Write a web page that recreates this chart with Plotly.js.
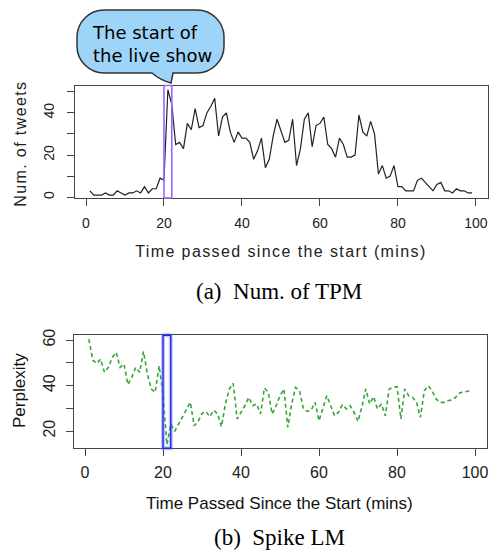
<!DOCTYPE html>
<html>
<head>
<meta charset="utf-8">
<script src="https://cdn.plot.ly/plotly-3.0.1.min.js"></script>
<style>
html,body{margin:0;padding:0;background:#fff;}
#chart{width:489px;height:551px;}
.spaced text{letter-spacing:1.4px;}
</style>
</head>
<body>
<div id="chart"></div>
<script>
// ---- data ----
const minutes = [1,2,3,4,5,6,7,8,9,10,11,12,13,14,15,16,17,18,19,20,
  21,22,23,24,25,26,27,28,29,30,31,32,33,34,35,36,37,38,39,40,
  41,42,43,44,45,46,47,48,49,50,51,52,53,54,55,56,57,58,59,60,
  61,62,63,64,65,66,67,68,69,70,71,72,73,74,75,76,77,78,79,80,
  81,82,83,84,85,86,87,88,89,90,91,92,93,94,95,96,97,98,99];
const tweets = [3,1,1,1,2,1,1,3,2,1, 2,2,3,2,5,2,4,4,9,8,
  51,44,25,26,23,35,32,42,33,34, 40,43,47,29,38,40,31,26,31,28,
  28,26,18,22,28,14,18,29,37,32, 26,27,37,15,23,37,40,24,34,35,
  38,25,23,19,28,25,19,19,20,39, 31,29,36,30,11,15,9,10,15,5,
  5,3,3,3,8,9,7,5,3,6, 7,3,3,2,4,3,3,2,2];
const perplexity = [60.4,51.2,49.7,51.6,45.8,48,52.4,54.6,48,49.5,
  40.4,43.6,48,45.8,55,45,38.5,37,48.7,36,
  14,23,19.9,23,26.7,29.2,32.6,22.3,24.2,27.8,
  28.6,26.3,29.2,27.5,21.9,31.9,38.5,41,25.3,28.2,
  31.1,34.8,31.1,31.9,27.5,38.9,37,27.5,31.1,35.5,
  38.5,21.6,31.9,39.2,37.7,29.7,28.6,29.2,32.6,24.5,
  30.4,35.5,31.1,26.7,28.2,31.6,29.7,31.1,28.2,24.2,
  30.7,38.5,31.9,35.1,29.7,31.9,26.7,38.5,39.2,39.5,
  25.3,38.5,35.5,34.8,32.6,26,37.7,39.9,37.7,34.1,
  32.6,32.6,33.3,33.6,34.8,36.6,37.4,37.4,38];
const xTicks = [0,20,40,60,80,100];
const yTicksTop = [0,10,20,30,40,50];
const yTextTop = ['0','','20','','40',''];
const yTicksBottom = [20,30,40,50,60];
const yTextBottom = ['20','','40','','60'];
const liveStart = [20,22];
const bubbleLines = ['The start of','the live show'];
const captionA = '(a)\u2002Num. of TPM';
const captionB = '(b)\u2002Spike LM';

// ---- layout helpers ----
const W = 489, H = 551;
const px = x => (x / W).toFixed(5);
const py = y => (1 - y / H).toFixed(5);
function P(x, y){ return px(x) + ',' + py(y); }

function bubblePath(){
  const L=77, R=224, T=10, B=73, r=27, k=0.45;
  return 'M' + P(L+r,T) +
    ' L' + P(R-r,T) +
    ' C' + P(R-r*k,T) + ' ' + P(R,T+r*k) + ' ' + P(R,T+r) +
    ' L' + P(R,B-r) +
    ' C' + P(R,B-r*k) + ' ' + P(R-r*k,B) + ' ' + P(R-r,B) +
    ' L' + P(173,B) +
    ' L' + P(171,83) +
    ' Q' + P(160,80) + ' ' + P(152,B) +
    ' L' + P(L+r,B) +
    ' C' + P(L+r*k,B) + ' ' + P(L,B-r*k) + ' ' + P(L,B-r) +
    ' L' + P(L,T+r) +
    ' C' + P(L,T+r*k) + ' ' + P(L+r*k,T) + ' ' + P(L+r,T) + ' Z';
}

const sans = 'Liberation Sans, Arial, sans-serif';
const serif = 'Liberation Serif, Times New Roman, serif';

const traces = [
  {x: minutes, y: tweets, xaxis:'x', yaxis:'y', type:'scatter', mode:'lines',
   line:{color:'#222', width:1.2}, hoverinfo:'skip'},
  {x: minutes, y: perplexity, xaxis:'x2', yaxis:'y2', type:'scatter', mode:'lines',
   line:{color:'#35a535', width:1.6, dash:'4px,3px'}, hoverinfo:'skip'}
];

const axCommon = {showgrid:false, zeroline:false, showline:true, mirror:true,
  linecolor:'#444', linewidth:1, ticks:'outside', ticklen:7, tickcolor:'#444',
  tickmode:'array', fixedrange:true};

const layout = {
  width: W, height: H,
  margin:{l:0,r:0,t:0,b:0},
  paper_bgcolor:'#fff', plot_bgcolor:'#fff',
  showlegend:false,
  xaxis: Object.assign({}, axCommon, {domain:[75/W, 488/W], range:[-2.82,103.1],
    tickvals:xTicks, anchor:'y', ticklabelstandoff:5,
    tickfont:{family:sans, size:14, color:'#222'}}),
  yaxis: Object.assign({}, axCommon, {domain:[1-198/H, 1-85.5/H], range:[-0.4,53],
    tickvals:yTicksTop, ticktext:yTextTop, tickangle:-90, anchor:'x', ticklabelstandoff:7,
    tickfont:{family:sans, size:14, color:'#222'}}),
  xaxis2: Object.assign({}, axCommon, {domain:[74/W, 486.7/W], range:[-2.82,103.0],
    tickvals:xTicks, anchor:'y2', ticklabelstandoff:2,
    tickfont:{family:sans, size:16, color:'#222'}}),
  yaxis2: Object.assign({}, axCommon, {domain:[1-448.3/H, 1-335.3/H], range:[12.4,62.1],
    tickvals:yTicksBottom, ticktext:yTextBottom, tickangle:-90, anchor:'x2', ticklabelstandoff:5,
    tickfont:{family:sans, size:16, color:'#222'}}),
  shapes: [
    {type:'rect', xref:'x', yref:'y domain', x0:liveStart[0], x1:liveStart[1], y0:0, y1:1,
     line:{color:'#9966ff', width:1.6}},
    {type:'rect', xref:'x2', yref:'y2 domain', x0:liveStart[0], x1:liveStart[1], y0:0, y1:1,
     line:{color:'rgba(120,130,255,0.45)', width:4}},
    {type:'rect', xref:'x2', yref:'y2 domain', x0:liveStart[0], x1:liveStart[1], y0:0, y1:1,
     line:{color:'#2222ee', width:1.4}},
    {type:'path', xref:'paper', yref:'paper', path: bubblePath(),
     fillcolor:'#9dd4f8', line:{color:'#333', width:1.5}, layer:'above'}
  ],
  annotations: [
    {text:'Time passed since the start (mins)', xref:'paper', yref:'paper',
     x:281/W, y:1-252/H, xanchor:'center', yanchor:'middle', showarrow:false,
     font:{family:sans, size:16, color:'#222'}},
    {text:'Num. of tweets', xref:'paper', yref:'paper', textangle:-90,
     x:20/W, y:1-144/H, xanchor:'center', yanchor:'middle', showarrow:false,
     font:{family:sans, size:16, color:'#222'}},
    {text:'Time Passed Since the Start (mins)', xref:'paper', yref:'paper',
     x:279.5/W, y:1-503/H, xanchor:'center', yanchor:'middle', showarrow:false,
     font:{family:sans, size:17, color:'#111'}},
    {text:'Perplexity', xref:'paper', yref:'paper', textangle:-90,
     x:19/W, y:1-391/H, xanchor:'center', yanchor:'middle', showarrow:false,
     font:{family:sans, size:17, color:'#111'}},
    {text:captionA, xref:'paper', yref:'paper',
     x:279/W, y:1-291/H, xanchor:'center', yanchor:'middle', showarrow:false,
     font:{family:serif, size:23, color:'#000'}},
    {text:captionB, xref:'paper', yref:'paper',
     x:279/W, y:1-537/H, xanchor:'center', yanchor:'middle', showarrow:false,
     font:{family:serif, size:23, color:'#000'}},
    {text:bubbleLines.join('<br>'), xref:'paper', yref:'paper', align:'left',
     x:90/W, y:1-44/H, xanchor:'left', yanchor:'middle', showarrow:false,
     font:{family:'DejaVu Sans, sans-serif', size:18, color:'#000'}}
  ]
};

Plotly.newPlot('chart', traces, layout, {staticPlot:true, displayModeBar:false}).then(function(){
  const anns = document.querySelectorAll('#chart .annotation');
  if (anns[0]) anns[0].classList.add('spaced');
  if (anns[1]) anns[1].classList.add('spaced');
});
</script>
</body>
</html>
